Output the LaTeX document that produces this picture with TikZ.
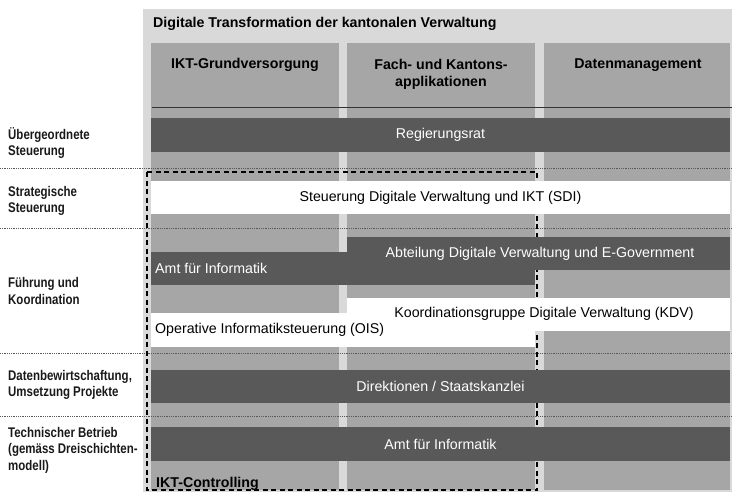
\documentclass[tikz,border=0pt]{standalone}
\usepackage{fontspec}
\setmainfont{Liberation Sans}
\newfontfamily\narrowfont[FakeStretch=0.82]{Liberation Sans}
\usepackage{xcolor}
\usepackage{tikz}

\definecolor{frame}{HTML}{D9D9D9}
\definecolor{column}{HTML}{A6A6A6}
\definecolor{bar}{HTML}{595959}

\tikzset{
    head/.style={font=\fontsize{14.2}{17}\selectfont\bfseries, align=center, inner sep=0pt},
    layer/.style={font=\narrowfont\bfseries\fontsize{14}{16.5}\selectfont, align=left, anchor=west, inner sep=0pt, text=black!90},
    ontext/.style={text=white, inner sep=0pt},
    offtext/.style={text=black, inner sep=0pt},
    divider/.style={bar, line width=0.8pt, dash pattern=on 1pt off 0.8pt}
}

\begin{document}
\begin{tikzpicture}[x=1pt, y=-1pt, font=\fontsize{14.2}{17}\selectfont]
        \useasboundingbox (0,0) rectangle (732,493);
        \fill[frame] (143,9) rectangle (732,492);
        \fill[column] (151,43) rectangle (339,490);
        \fill[column] (347,43) rectangle (535,490);
        \fill[column] (544,43) rectangle (730,490);
        \draw[line width=0.9pt, black!80] (152,107) -- (732,107);

        % Headers
        \node[head, anchor=west] (title) at (153,24) {Digitale Transformation der kantonalen Verwaltung};
        \node[head] (grund) at (245,65) {IKT-Grundversorgung};
        \node[head] (fach) at (441,74) {Fach- und Kantons-\\applikationen};
        \node[head] (daten) at (638,65) {Datenmanagement};

        % Layer borders
        \draw[divider] (0,168) -- (732,168);
        \draw[divider] (0,228) -- (732,228);
        \draw[divider] (0,353) -- (732,353);
        \draw[divider] (0,416) -- (732,416);

        % IKT-Controlling (under the bars)
        \draw[line width=1.3pt, dash pattern=on 5pt off 3.5pt] (147,172) rectangle (537,490);

        % Left labels
        \node[layer] (uebergeordnet) at (8,143) {Übergeordnete\\Steuerung};
        \node[layer] (strategisch) at (8,201) {Strategische\\Steuerung};
        \node[layer] (fuehrung) at (8,291) {Führung und\\Koordination};
        \node[layer] (datenlayer) at (8,385) {Datenbewirtschaftung,\\Umsetzung Projekte};
        \node[layer] (betrieb) at (8,450) {Technischer Betrieb\\(gemäss Dreischichten-\\modell)};

        % Bars
        \fill[bar] (151,118) rectangle (730,152);
        \fill[white] (151,181) rectangle (730,214);
        \fill[bar] (347,237) rectangle (730,270);
        \fill[bar] (151,252) rectangle (535,285);
        \fill[white] (347,298) rectangle (730,331);
        \fill[white] (151,313) rectangle (535,347);
        \fill[bar] (151,370) rectangle (730,403);
        \fill[bar] (151,427) rectangle (730,461);

        % Bar texts
        \node[ontext] (rr) at (440.5,135) {Regierungsrat};
        \node[offtext] (sdi) at (440.5,198) {Steuerung Digitale Verwaltung und IKT (SDI)};
        \node[ontext] (dve) at (540,254) {Abteilung Digitale Verwaltung und E-Government};
        \node[ontext, anchor=west] (afi) at (155,268.5) {Amt für Informatik};
        \node[offtext] (kdv) at (544,314) {Koordinationsgruppe Digitale Verwaltung (KDV)};
        \node[offtext, anchor=west] (ois) at (155,329.5) {Operative Informatiksteuerung (OIS)};
        \node[ontext] (dir) at (440.5,386.5) {Direktionen / Staatskanzlei};
        \node[ontext] (afibetrieb) at (440.5,444) {Amt für Informatik};

        \node[head, anchor=base west] (controlling) at (156,487) {IKT-Controlling};
    \end{tikzpicture}
\end{document}
